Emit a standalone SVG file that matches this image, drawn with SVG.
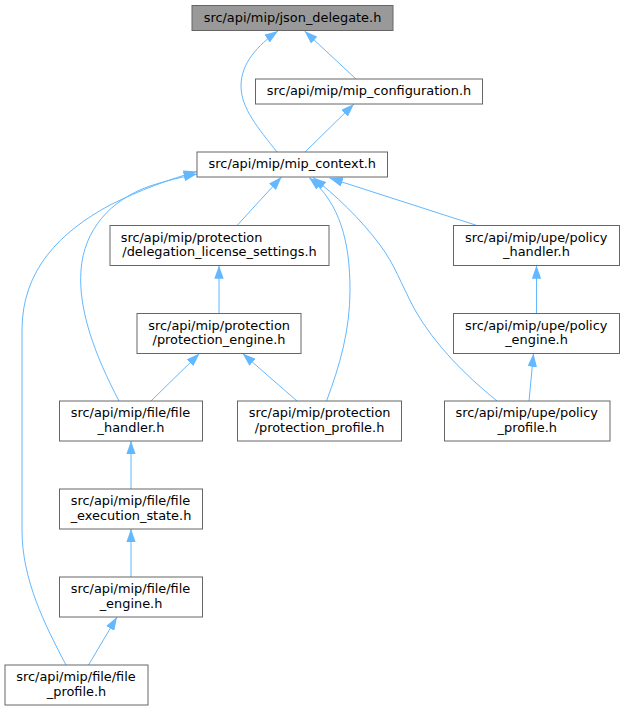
<svg xmlns="http://www.w3.org/2000/svg" width="625" height="711" viewBox="0 0 625 711">
<style>
  .node rect { fill: #ffffff; stroke: #666666; stroke-width: 1; }
  .node.root rect { fill: #999999; }
  .node text { font-family: "DejaVu Sans", "Noto Sans", sans-serif; font-size: 12.9px; fill: #000000; }
  .s { text-anchor: start; }
  .m { text-anchor: middle; }
  #edges path { fill: none; stroke: #63b8ff; stroke-width: 1; marker-end: url(#arr); }
</style>
<defs>
  <marker id="arr" markerUnits="userSpaceOnUse" viewBox="0 0 13.3 9.4" refX="13.3" refY="4.7" markerWidth="13.3" markerHeight="9.4" orient="auto">
    <path d="M0,0 L13.3,4.7 L0,9.4 Z" fill="#63b8ff" stroke="none"/>
  </marker>
</defs>
<rect x="0" y="0" width="625" height="711" fill="#ffffff"/>
<g id="edges">
  <path d="M356,79 L304.5,31"/>
  <path d="M277,152 C258,128 241,108 241,86 C241,63 258,45 278,31"/>
  <path d="M305,152 L354,104"/>
  <path d="M237,225.5 L281.5,177"/>
  <path d="M219,313.5 L219,265.5"/>
  <path d="M151,401 L199.5,353.5"/>
  <path d="M297,401 L242.5,353.5"/>
  <path d="M119,401 C95,355 78,310 81,270 C84,230 110,200 150,186 C165,181 182,177 197,174"/>
  <path d="M66,665 C45,625 22,580 22,530 L22,330 C22,270 60,232 110,205 C140,190 170,179 197,171.5"/>
  <path d="M326.5,401 C340,365 350,330 350,290 C350,242 340,203 309,177.5"/>
  <path d="M497,401 C465,375 435,345 415,310 C400,282 395,265 380,245 C360,218 335,195 313,177.5"/>
  <path d="M477,225.5 L329.5,178"/>
  <path d="M536.5,313.5 L536.5,265.5"/>
  <path d="M529,401 L533.5,353.5"/>
  <path d="M131,489 L131,441"/>
  <path d="M131,577 L131,529"/>
  <path d="M88.5,665 L117,617"/>
</g>
<g id="n_json_delegate" class="node root">
  <rect x="192" y="5.5" width="201" height="25"/>
  <text class="m" x="292.5" y="21.5">src/api/mip/json_delegate.h</text>
</g>
<g id="n_mip_configuration" class="node">
  <rect x="255.5" y="79" width="227" height="25"/>
  <text class="m" x="369" y="95">src/api/mip/mip_configuration.h</text>
</g>
<g id="n_mip_context" class="node">
  <rect x="197" y="152" width="190.5" height="25"/>
  <text class="m" x="292.3" y="168">src/api/mip/mip_context.h</text>
</g>
<g id="n_delegation_license_settings" class="node">
  <rect x="110" y="225.5" width="219" height="40"/>
  <text class="s" x="120.7" y="241.7">src/api/mip/protection</text>
  <text class="m" x="219.5" y="256">/delegation_license_settings.h</text>
</g>
<g id="n_policy_handler" class="node">
  <rect x="453.5" y="225.5" width="166" height="40"/>
  <text class="s" x="465" y="241.7">src/api/mip/upe/policy</text>
  <text class="m" x="536.5" y="256">_handler.h</text>
</g>
<g id="n_protection_engine" class="node">
  <rect x="137" y="313.5" width="164" height="40"/>
  <text class="s" x="148.3" y="329.7">src/api/mip/protection</text>
  <text class="m" x="219" y="344">/protection_engine.h</text>
</g>
<g id="n_policy_engine" class="node">
  <rect x="453.5" y="313.5" width="166" height="40"/>
  <text class="s" x="465" y="329.7">src/api/mip/upe/policy</text>
  <text class="m" x="536.5" y="344">_engine.h</text>
</g>
<g id="n_file_handler" class="node">
  <rect x="59.5" y="401" width="143" height="40"/>
  <text class="s" x="70.8" y="417.2">src/api/mip/file/file</text>
  <text class="m" x="131" y="431.5">_handler.h</text>
</g>
<g id="n_protection_profile" class="node">
  <rect x="237.5" y="401" width="164" height="40"/>
  <text class="s" x="248.8" y="417.2">src/api/mip/protection</text>
  <text class="m" x="319.5" y="431.5">/protection_profile.h</text>
</g>
<g id="n_policy_profile" class="node">
  <rect x="444.5" y="401" width="165.5" height="40"/>
  <text class="s" x="455.5" y="417.2">src/api/mip/upe/policy</text>
  <text class="m" x="527.3" y="431.5">_profile.h</text>
</g>
<g id="n_file_execution_state" class="node">
  <rect x="59.5" y="489" width="143" height="40"/>
  <text class="s" x="70.8" y="505.2">src/api/mip/file/file</text>
  <text class="m" x="131" y="519.5">_execution_state.h</text>
</g>
<g id="n_file_engine" class="node">
  <rect x="59.5" y="577" width="143" height="40"/>
  <text class="s" x="70.8" y="593.2">src/api/mip/file/file</text>
  <text class="m" x="131" y="607.5">_engine.h</text>
</g>
<g id="n_file_profile" class="node">
  <rect x="5" y="665" width="143" height="40"/>
  <text class="s" x="16.3" y="681.2">src/api/mip/file/file</text>
  <text class="m" x="76.5" y="695.5">_profile.h</text>
</g>
</svg>
